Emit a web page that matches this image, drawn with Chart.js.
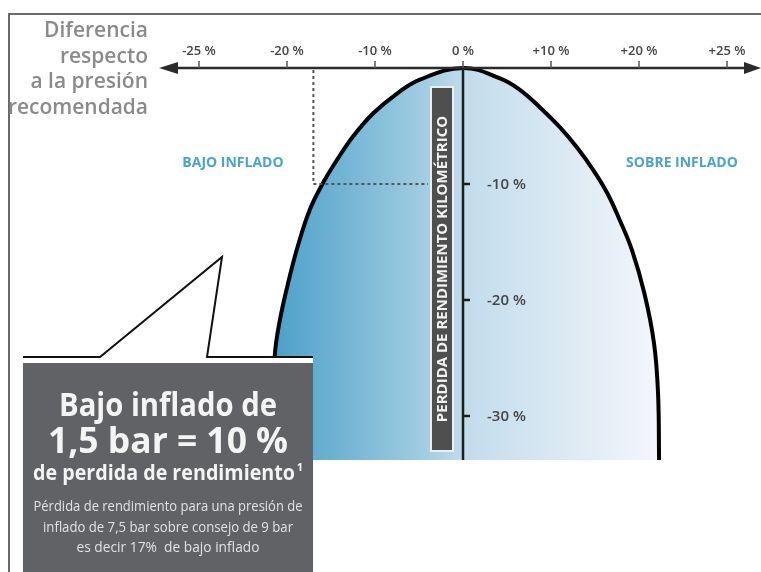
<!doctype html>
<html>
<head>
<meta charset="utf-8">
<title>Pérdida de rendimiento kilométrico</title>
<style>
  html, body { margin:0; padding:0; background:#fff; }
  #wrap { width:761px; height:572px; }
  canvas { display:block; }
</style>
</head>
<body>
<div id="wrap"><canvas id="chart" width="761" height="572"></canvas></div>

<script src="https://cdn.jsdelivr.net/npm/chart.js@4.4.1/dist/chart.umd.min.js"></script>
<script>
// pressure difference vs recommended (%) -> mileage loss (%)
const pressureTicks = [-25, -20, -10, 0, 10, 20, 25];
const pressureLabels = ['-25 %', '-20 %', '-10 %', '0 %', '+10 %', '+20 %', '+25 %'];
const lossTicks = [-10, -20, -30];
const lossLabels = ['-10 %', '-20 %', '-30 %'];

const curvePressure = [-20.9, -20.7, -20.4, -19.7, -18.75, -17.4, -15.9, -14.3, -12.5, -10.2, -7.5, -4.9, 0,
                       4.2, 6.5, 8.75, 11, 13, 14.8, 16.4, 17.8, 19.2, 20.3, 20.85, 21.08, 21.14];
const curveLoss     = [-33.8, -24.9, -21.7, -18, -15.3, -12.2, -9.9, -7.9, -5.9, -3.9, -2.2, -1, 0,
                       -0.9, -1.9, -3.4, -5.1, -6.9, -8.8, -10.8, -13.1, -15.7, -19.4, -23.7, -28, -33.8];

const underInflated = { pressure: -17, loss: -10 };
const lossFloor = -33.8;

const leftCaption = ['Diferencia', 'respecto', 'a la presión', 'recomendada'];
const boxLines = ['Bajo inflado de', '1,5 bar = 10 %', 'de perdida de rendimiento'];
const boxNote = ['Pérdida de rendimiento para una presión de', 'inflado de 7,5 bar sobre consejo de 9 bar', 'es decir 17%  de bajo inflado'];

// tick marks are evenly spaced on the axis even though the values are not
const zeroIdx = pressureTicks.indexOf(0);
function pos(p) {
  const t = pressureTicks;
  let i = 0;
  while (i < t.length - 2 && p > t[i + 1]) i++;
  return i - zeroIdx + (p - t[i]) / (t[i + 1] - t[i]);
}

const FONT = '"Open Sans", "DejaVu Sans", sans-serif';

const overlay = {
  id: 'overlay',
  afterDatasetsDraw(chart) {
    const { ctx } = chart;
    const xs = chart.scales.x, ys = chart.scales.y;
    const X = p => xs.getPixelForValue(pos(p));
    const Y = v => ys.getPixelForValue(v);
    const axisY = Y(0), axisX = X(0);
    ctx.save();

    // frame
    ctx.strokeStyle = '#6a6a6a'; ctx.lineWidth = 2;
    ctx.beginPath(); ctx.moveTo(9, 572); ctx.lineTo(9, 14); ctx.lineTo(761, 14); ctx.stroke();

    // left caption
    ctx.fillStyle = '#8a8a8a'; ctx.font = '600 21px ' + FONT;
    ctx.textAlign = 'right'; ctx.textBaseline = 'alphabetic';
    leftCaption.forEach((s, i) => ctx.fillText(s, 148, 37 + i * 25.5, 140));

    // top axis with arrows
    ctx.strokeStyle = '#2b2b2b'; ctx.fillStyle = '#2b2b2b'; ctx.lineWidth = 2.5;
    ctx.beginPath(); ctx.moveTo(170, axisY); ctx.lineTo(750, axisY); ctx.stroke();
    ctx.beginPath(); ctx.moveTo(159, axisY); ctx.lineTo(178, axisY - 6); ctx.lineTo(178, axisY + 6); ctx.fill();
    ctx.beginPath(); ctx.moveTo(761, axisY); ctx.lineTo(744, axisY - 6); ctx.lineTo(744, axisY + 6); ctx.fill();
    ctx.lineWidth = 1.5; ctx.strokeStyle = '#555';
    ctx.font = '600 13px ' + FONT; ctx.fillStyle = '#444';
    ctx.textAlign = 'center'; ctx.textBaseline = 'middle';
    pressureTicks.forEach((p, i) => {
      const x = X(p);
      ctx.beginPath(); ctx.moveTo(x, axisY - 7); ctx.lineTo(x, axisY); ctx.stroke();
      ctx.fillText(pressureLabels[i], x, 51, 44);
    });

    // vertical axis
    ctx.strokeStyle = '#1e1e1e'; ctx.lineWidth = 2.5;
    ctx.beginPath(); ctx.moveTo(axisX, axisY); ctx.lineTo(axisX, Y(lossFloor)); ctx.stroke();
    ctx.font = '600 15px ' + FONT; ctx.fillStyle = '#454545'; ctx.textAlign = 'left';
    lossTicks.forEach((v, i) => {
      const y = Y(v);
      ctx.beginPath(); ctx.moveTo(axisX, y); ctx.lineTo(axisX + 7, y); ctx.stroke();
      ctx.fillText(lossLabels[i], axisX + 24, y + 1, 42);
    });

    // rotated axis title
    const bx = 432, bw = 20, by = 88, bh = 362;
    ctx.fillStyle = '#e9eef2'; ctx.fillRect(bx - 2, by - 2, bw + 4, bh + 4);
    ctx.fillStyle = '#4f4f4f'; ctx.fillRect(bx, by, bw, bh);
    ctx.save();
    ctx.translate(bx + bw / 2, by + bh / 2); ctx.rotate(-Math.PI / 2);
    ctx.fillStyle = '#f2f2f2'; ctx.font = 'bold 15px ' + FONT;
    ctx.textAlign = 'center'; ctx.textBaseline = 'middle';
    ctx.fillText('PERDIDA DE RENDIMIENTO KILOMÉTRICO', 0, 1, bh - 10);
    ctx.restore();

    // dashed guides for 17% under-inflation
    const gx = X(underInflated.pressure), gy = Y(underInflated.loss);
    ctx.strokeStyle = '#555'; ctx.lineWidth = 2; ctx.setLineDash([3, 3]);
    ctx.beginPath(); ctx.moveTo(gx, axisY + 2); ctx.lineTo(gx, gy); ctx.lineTo(bx - 4, gy); ctx.stroke();
    ctx.setLineDash([]);

    // zone labels
    ctx.fillStyle = '#4aa3cf'; ctx.font = 'bold 14px ' + FONT;
    ctx.textAlign = 'center'; ctx.textBaseline = 'middle';
    ctx.fillText('BAJO INFLADO', 233, 163, 127);
    ctx.fillText('SOBRE INFLADO', 682, 163, 140);

    // callout
    ctx.fillStyle = '#fff'; ctx.fillRect(23, 358, 290, 6);
    ctx.strokeStyle = '#111'; ctx.lineWidth = 2;
    ctx.beginPath();
    ctx.moveTo(23, 357); ctx.lineTo(100, 357); ctx.lineTo(222, 257); ctx.lineTo(207, 357); ctx.lineTo(313, 357);
    ctx.stroke();

    // grey box
    ctx.fillStyle = '#606265'; ctx.fillRect(23, 363, 290, 209);
    const cx = 168;
    ctx.fillStyle = '#f4f4f4'; ctx.textAlign = 'center'; ctx.textBaseline = 'alphabetic';
    ctx.font = 'bold 32px ' + FONT; ctx.fillText(boxLines[0], cx, 416, 218);
    ctx.font = 'bold 36px ' + FONT; ctx.fillText(boxLines[1], cx, 453, 240);
    ctx.font = 'bold 22px ' + FONT;
    const w = Math.min(ctx.measureText(boxLines[2]).width, 262);
    ctx.fillText(boxLines[2], cx - 4, 480, 262);
    ctx.font = 'bold 11px ' + FONT; ctx.fillText('1', cx - 4 + w / 2 + 5, 471);
    ctx.fillStyle = '#e2e2e2'; ctx.font = '14px ' + FONT;
    const noteW = [269, 250, 183];
    boxNote.forEach((s, i) => ctx.fillText(s, cx, 511 + i * 20.5, noteW[i]));

    ctx.restore();
  }
};

new Chart(document.getElementById('chart'), {
  type: 'line',
  data: {
    datasets: [{
      data: curvePressure.map((p, i) => ({ x: pos(p), y: curveLoss[i] })),
      borderColor: '#000',
      borderWidth: 4,
      pointRadius: 0,
      tension: 0.4,
      fill: { value: lossFloor },
      backgroundColor(context) {
        const { chart } = context;
        if (!chart.chartArea) return '#a8d0e4';
        const xs = chart.scales.x;
        const g = chart.ctx.createLinearGradient(xs.getPixelForValue(pos(curvePressure[0])), 0,
          xs.getPixelForValue(pos(curvePressure[curvePressure.length - 1])), 0);
        g.addColorStop(0, '#4b9fc9');
        g.addColorStop(0.38, '#9dcbe0');
        g.addColorStop(0.5, '#c2dcec');
        g.addColorStop(1, '#f4f6fb');
        return g;
      }
    }]
  },
  options: {
    responsive: false,
    animation: false,
    devicePixelRatio: 1,
    layout: { padding: 0 },
    plugins: { legend: { display: false }, tooltip: { enabled: false } },
    scales: {
      x: { type: 'linear', min: -5.261, max: 3.386, display: false },
      y: { type: 'linear', min: -43.45, max: 5.862, display: false }
    }
  },
  plugins: [overlay]
});
</script>
</body>
</html>
